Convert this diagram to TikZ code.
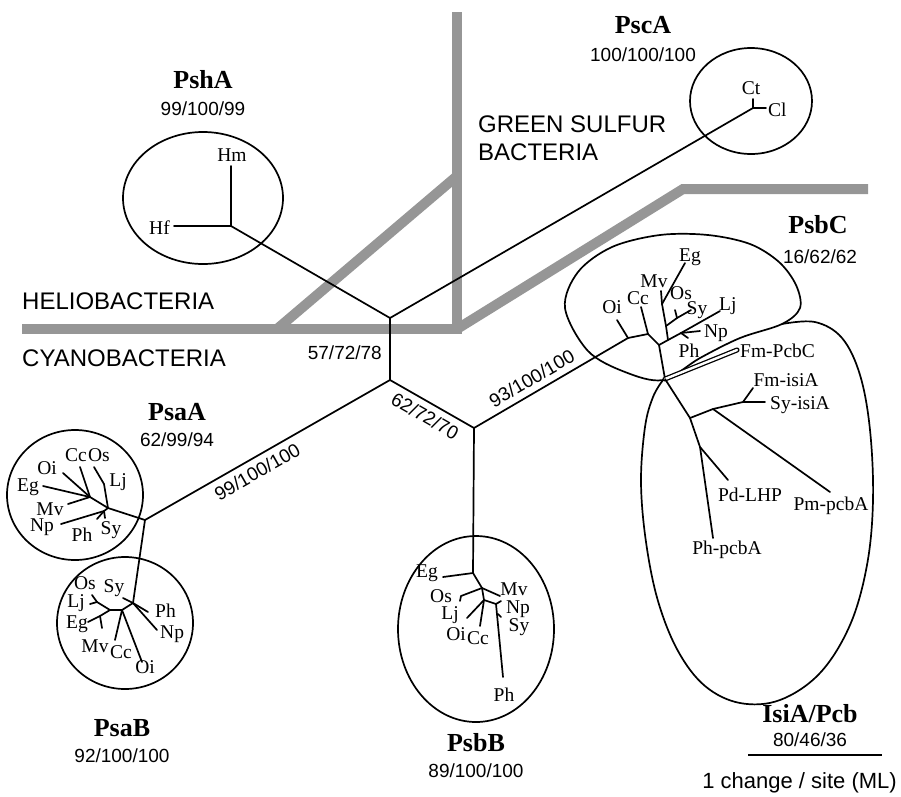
\documentclass[tikz,border=0pt]{standalone}
\usepackage{fontspec}
\setmainfont{Liberation Serif}
\newfontfamily\hv{Liberation Sans}
\definecolor{grayc}{RGB}{150,150,150}
\begin{document}
\begin{tikzpicture}[x=1pt,y=-1pt,
  br/.style={line width=1.7pt, line cap=round, line join=round},
  gr/.style={line width=10pt, draw=grayc, line join=miter},
  cl/.style={line width=1.7pt},
  lf/.style={font=\fontsize{19.5}{20}\selectfont, inner sep=0pt},
  nm/.style={font=\fontsize{26}{26}\selectfont\bfseries, inner sep=0pt},
  num/.style={font=\hv\fontsize{19}{19}\selectfont, inner sep=0pt},
  grp/.style={font=\hv\fontsize{24}{24}\selectfont, inner sep=0pt, anchor=base west},
]
\useasboundingbox (0,0) rectangle (901,796);
% ---------------- gray separators
\draw[gr] (22,329) -- (457,329) -- (457,12);
\draw[gr] (277,329) -- (457,176);
\draw[gr] (457,329) -- (683,189) -- (868,189);
% ---------------- backbone
\coordinate (A) at (390,318);
\coordinate (B) at (390,380);
\coordinate (C) at (474,428);
\coordinate (H) at (145,520);
\draw[br] (A) -- (B);
\draw[br] (H) -- node[num, sloped, below=6pt, pos=0.43] (l1) {99/100/100} (B);
\draw[br] (B) -- node[num, sloped, below=6pt, pos=0.5] (l2) {62/72/70} (C);
\node[num, anchor=east] (l3) at (382,353) {57/72/78};
% ---------------- PshA
\coordinate (Q) at (231,226);
\coordinate (HmE) at (231,166);
\coordinate (HfE) at (174,226);
\draw[br] (Q) -- (A);
\draw[br] (HmE) -- (Q) -- (HfE);
\node[lf] (Hm) at (232,155) {Hm};
\node[lf, anchor=east] (Hf) at (170,228) {Hf};
\draw[cl] (203,198) ellipse [x radius=80pt, y radius=66pt];
\node[nm] (nPshA) at (203,80) {PshA};
\node[num] (vPshA) at (203,109) {99/100/99};
% ---------------- PscA
\coordinate (S) at (753,108);
\coordinate (CtE) at (753,99);
\coordinate (ClE) at (766,108);
\draw[br] (A) -- (S);
\draw[br] (CtE) -- (S) -- (ClE);
\node[lf] (Ct) at (751,88) {Ct};
\node[lf, anchor=west] (Cl) at (768,110) {Cl};
\draw[cl] (751,101) ellipse [x radius=61pt, y radius=53pt];
\node[nm] (nPscA) at (643,25) {PscA};
\node[num] (vPscA) at (643,55) {100/100/100};
% ---------------- PsaA
\coordinate (R1) at (108,508);
\coordinate (U1) at (104,484);
\coordinate (aOsE) at (94,467);
\coordinate (R1b) at (90,497);
\coordinate (aCcE) at (80,467);
\coordinate (aOiE) at (63,473);
\coordinate (aEgE) at (43,486);
\coordinate (aMvE) at (68,504);
\coordinate (R1c) at (104,511);
\coordinate (aNpE) at (61,524);
\coordinate (aPhE) at (97,519);
\coordinate (aSyE) at (105,518);
\draw[br] (H) -- (R1) -- (U1) -- (aOsE);
\draw[br] (R1) -- (R1b) -- (aCcE);
\draw[br] (R1b) -- (aOiE);
\draw[br] (R1b) -- (aEgE);
\draw[br] (R1b) -- (aMvE);
\draw[br] (R1) -- (R1c) -- (aNpE);
\draw[br] (R1c) -- (aPhE);
\draw[br] (R1c) -- (aSyE);
\node[lf] (aCc) at (76,455) {Cc};
\node[lf] (aOs) at (99,455) {Os};
\node[lf] (aOi) at (47,468) {Oi};
\node[lf] (aLj) at (118,482) {Lj};
\node[lf] (aEg) at (28,487) {Eg};
\node[lf] (aMv) at (50,509) {Mv};
\node[lf] (aNp) at (42,527) {Np};
\node[lf] (aPh) at (82,535) {Ph};
\node[lf] (aSy) at (111,530) {Sy};
\draw[cl] (75,495) ellipse [x radius=68pt, y radius=65pt];
\node[nm] (nPsaA) at (177,412) {PsaA};
\node[num] (vPsaA) at (177,440) {62/99/94};
% ---------------- PsaB
\coordinate (R2) at (133,603);
\coordinate (bPhE) at (148,612);
\coordinate (bNpE) at (157,630);
\coordinate (bSyE) at (123,598);
\coordinate (R3) at (122,610);
\coordinate (bOiE) at (142,662);
\coordinate (bCcE) at (115,640);
\coordinate (R5) at (110,610);
\coordinate (R6) at (97,602);
\coordinate (bOsE) at (92,595);
\coordinate (bLjE) at (90,604);
\coordinate (R7) at (100,616);
\coordinate (bEgE) at (88,622);
\coordinate (bMvE) at (102,628);
\draw[br] (H) -- (R2) -- (bPhE);
\draw[br] (R2) -- (bNpE);
\draw[br] (R2) -- (bSyE);
\draw[br] (R2) -- (R3) -- (R5) -- (R6) -- (bOsE);
\draw[br] (R3) -- (bOiE);
\draw[br] (R3) -- (bCcE);
\draw[br] (R6) -- (bLjE);
\draw[br] (R5) -- (R7) -- (bEgE);
\draw[br] (R7) -- (bMvE);
\node[lf] (bOs) at (85,583) {Os};
\node[lf] (bSy) at (114,588) {Sy};
\node[lf] (bLj) at (76,603) {Lj};
\node[lf] (bEg) at (77,624) {Eg};
\node[lf] (bMv) at (95,646) {Mv};
\node[lf] (bCc) at (121,652) {Cc};
\node[lf] (bOi) at (145,667) {Oi};
\node[lf, anchor=west] (bPh) at (155,611) {Ph};
\node[lf, anchor=west] (bNp) at (160,634) {Np};
\draw[cl] (125,623) ellipse [x radius=68pt, y radius=66pt];
\node[nm] (nPsaB) at (122,728) {PsaB};
\node[num] (vPsaB) at (122,756) {92/100/100};
% ---------------- PsbB
\coordinate (J1) at (473,573);
\coordinate (cEgE) at (443,577);
\coordinate (J2) at (482,588);
\coordinate (cMvE) at (500,596);
\coordinate (cOsE) at (461,596);
\coordinate (cOsT) at (460,601);
\coordinate (J3) at (484,600);
\coordinate (cLjE) at (467,618);
\coordinate (cCcE) at (480,626);
\coordinate (J5) at (496,604);
\coordinate (cPhE) at (503,677);
\coordinate (cNpE) at (501,601);
\coordinate (cSyS) at (498,614);
\coordinate (cSyE) at (501,617);
\draw[br] (C) -- (J1) -- (cEgE);
\draw[br] (J1) -- (J2) -- (cMvE);
\draw[br] (J2) -- (cOsE) -- (cOsT);
\draw[br] (J2) -- (J3) -- (cLjE);
\draw[br] (J3) -- (cCcE);
\draw[br] (J3) -- (J5) -- (cPhE);
\draw[br] (J5) -- (cNpE);
\draw[br] (cSyS) -- (cSyE);
\node[lf] (cEg) at (427,573) {Eg};
\node[lf] (cMv) at (514,589) {Mv};
\node[lf] (cOs) at (441,596) {Os};
\node[lf] (cLj) at (450,615) {Lj};
\node[lf] (cOi) at (456,634) {Oi};
\node[lf] (cCc) at (478,638) {Cc};
\node[lf] (cNp) at (518,609) {Np};
\node[lf] (cSy) at (519,627) {Sy};
\node[lf] (cPh) at (504,695) {Ph};
\draw[cl] (476,629) ellipse [x radius=78pt, y radius=93pt];
\node[nm] (nPsbB) at (476,743) {PsbB};
\node[num] (vPsbB) at (476,771) {89/100/100};
% ---------------- PsbC
\coordinate (P1) at (628,338);
\coordinate (dOiE) at (617,320);
\coordinate (P2) at (648,334);
\coordinate (dCcE) at (641,307);
\coordinate (P3) at (659,345);
\coordinate (D) at (665,379);
\coordinate (P4) at (668,340);
\coordinate (P5a) at (666,326);
\coordinate (P5) at (662,304);
\coordinate (dMvE) at (661,291);
\coordinate (dEgE) at (685,263);
\coordinate (P6) at (677,318);
\coordinate (dSyE) at (691,310);
\coordinate (dOsE) at (675,310);
\coordinate (P7) at (681,333);
\coordinate (dLjE) at (720,311);
\coordinate (dNpE) at (700,331);
\coordinate (dPhE) at (688,338);
\draw[br] (C) -- node[num, sloped, above=6pt, pos=0.42] (l4) {93/100/100} (P1);
\draw[br] (P1) -- (P2) -- (P3) -- (D);
\draw[br] (P1) -- (dOiE);
\draw[br] (P2) -- (dCcE);
\draw[br] (P3) -- (P4) -- (P5a) -- (P5) -- (dMvE);
\draw[br] (P5) -- (dEgE);
\draw[br] (P5a) -- (P6) -- (dSyE);
\draw[br] (P6) -- (dOsE);
\draw[br] (P4) -- (P7) -- (dLjE);
\draw[br] (P7) -- (dNpE);
\draw[br] (P7) -- (dPhE);
\node[lf] (dEg) at (690,257) {Eg};
\node[lf] (dMv) at (654,281) {Mv};
\node[lf] (dCc) at (638,298) {Cc};
\node[lf] (dOi) at (612,307) {Oi};
\node[lf] (dOs) at (681,293) {Os};
\node[lf] (dSy) at (697,310) {Sy};
\node[lf, anchor=west] (dLj) at (719,306) {Lj};
\node[lf] (dNp) at (716,333) {Np};
\node[lf] (dPh) at (689,351) {Ph};
\draw[cl] plot[smooth cycle, tension=0.55] coordinates {(565,308) (578,272) (612,247) (660,235) (708,235) (750,244) (779,262) (796,285) (800,308) (782,324) (740,338) (700,358) (663,380) (625,372) (588,351)};
\node[nm] (nPsbC) at (818,225) {PsbC};
\node[num] (vPsbC) at (820,257) {16/62/62};
% ---------------- IsiA / Pcb
\coordinate (eFmPE) at (737,350);
\coordinate (E) at (690,418);
\coordinate (F) at (713,409);
\coordinate (F2) at (743,402);
\coordinate (eFmE) at (753,388);
\coordinate (eSyE) at (765,402);
\coordinate (ePmE) at (830,492);
\coordinate (G) at (700,447);
\coordinate (ePdE) at (728,480);
\coordinate (ePhE) at (713,538);
\draw[line width=1.3pt, double distance=2.4pt, line cap=round] (D) -- (eFmPE);
\draw[br] (D) -- (E) -- (F) -- (F2) -- (eSyE);
\draw[br] (F2) -- (eFmE);
\draw[br] (F) -- (ePmE);
\draw[br] (E) -- (G) -- (ePdE);
\draw[br] (G) -- (ePhE);
\node[lf, anchor=west] (eFmP) at (740,351) {Fm-PcbC};
\node[lf] (eFm) at (786,380) {Fm-isiA};
\node[lf] (eSy) at (800,405) {Sy-isiA};
\node[lf] (ePd) at (750,495) {Pd-LHP};
\node[lf] (ePm) at (831,506) {Pm-pcbA};
\node[lf] (ePh) at (727,550) {Ph-pcbA};
\draw[cl] plot[smooth, tension=0.6] coordinates {(782,324) (815,322) (842,338) (860,375) (870,430) (873,500) (867,565) (850,625) (820,673) (780,700) (740,703) (705,686) (678,651) (658,601) (646,542) (641,482) (645,427) (653,397) (663,380)};
\node[nm] (nIsiA) at (810,714) {IsiA/Pcb};
\node[num] (vIsiA) at (810,740) {80/46/36};
% ---------------- group labels
\node[grp] (gH) at (22,309) {HELIOBACTERIA};
\node[grp] (gC) at (22,366) {CYANOBACTERIA};
\node[grp] (gG1) at (478,132) {GREEN SULFUR};
\node[grp] (gG2) at (478,160) {BACTERIA};
% ---------------- scale bar
\coordinate (sb1) at (748,755);
\coordinate (sb2) at (882,755);
\draw[line width=1.7pt] (sb1) -- (sb2);
\node[font=\hv\fontsize{22}{22}\selectfont, inner sep=0pt, anchor=east] (sbl) at (897,783) {1 change / site (ML)};
\end{tikzpicture}
\end{document}
